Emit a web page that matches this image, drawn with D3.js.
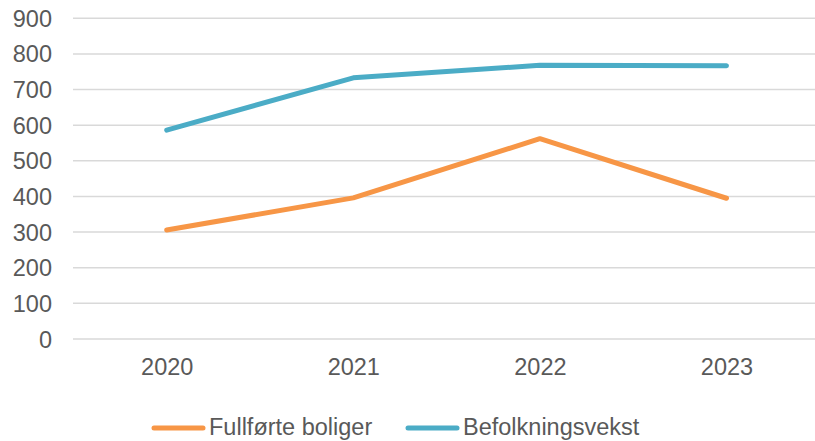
<!DOCTYPE html>
<html><head><meta charset="utf-8">
<script src="https://cdn.jsdelivr.net/npm/d3@7"></script>
<style>body{margin:0;background:#fff}svg{display:block}text{font-family:"Liberation Sans",Arial,sans-serif;fill:#595959}</style>
</head><body>
<svg id="c" width="815" height="441"></svg>
<script>
const categories = ["2020","2021","2022","2023"];
const fullforte = [306, 396, 562, 395];
const befolkning = [586, 733, 768, 767];
const yTicks = [0,100,200,300,400,500,600,700,800,900];
const seriesNames = ["Fullførte boliger","Befolkningsvekst"];
const colors = ["#F79646","#4BACC6"];
const FS = 23.5;

const svg = d3.select("#c");
const x = d3.scalePoint().domain(categories).range([166.7, 726.5]);
const y = d3.scaleLinear().domain([0,900]).range([339, 18.3]);

svg.append("g").selectAll("line").data(yTicks).join("line")
  .attr("x1",73).attr("x2",815)
  .attr("y1",d=>y(d)).attr("y2",d=>y(d))
  .attr("stroke","#D9D9D9").attr("stroke-width",1.5);

const yAxis = d3.axisLeft(y).tickValues(yTicks).tickSize(0).tickPadding(0);
svg.append("g").attr("transform","translate(52,0)").call(yAxis)
  .attr("font-size",null).attr("font-family",null)
  .call(s=>s.select(".domain").remove())
  .selectAll("text").attr("font-size",FS).attr("dy","0.34em");

const xAxis = d3.axisBottom(x).tickSize(0).tickPadding(0);
svg.append("g").attr("transform","translate(0,358)").call(xAxis)
  .attr("font-size",null).attr("font-family",null)
  .call(s=>s.select(".domain").remove())
  .selectAll("text").attr("font-size",FS).attr("dy","0.72em");

const line = d3.line().x((d,i)=>x(categories[i])).y(d=>y(d));
[fullforte, befolkning].forEach((s,i)=>{
  svg.append("path").datum(s).attr("d",line)
    .attr("fill","none").attr("stroke",colors[i]).attr("stroke-width",5)
    .attr("stroke-linecap","round").attr("stroke-linejoin","round");
});

const legX = [152, 406];
seriesNames.forEach((n,i)=>{
  svg.append("line").attr("x1",legX[i]+2).attr("x2",legX[i]+51)
    .attr("y1",428).attr("y2",428).attr("stroke",colors[i]).attr("stroke-width",5)
    .attr("stroke-linecap","round");
  svg.append("text").attr("x",legX[i]+57).attr("y",435).attr("font-size",FS).text(n);
});
</script>
</body></html>
